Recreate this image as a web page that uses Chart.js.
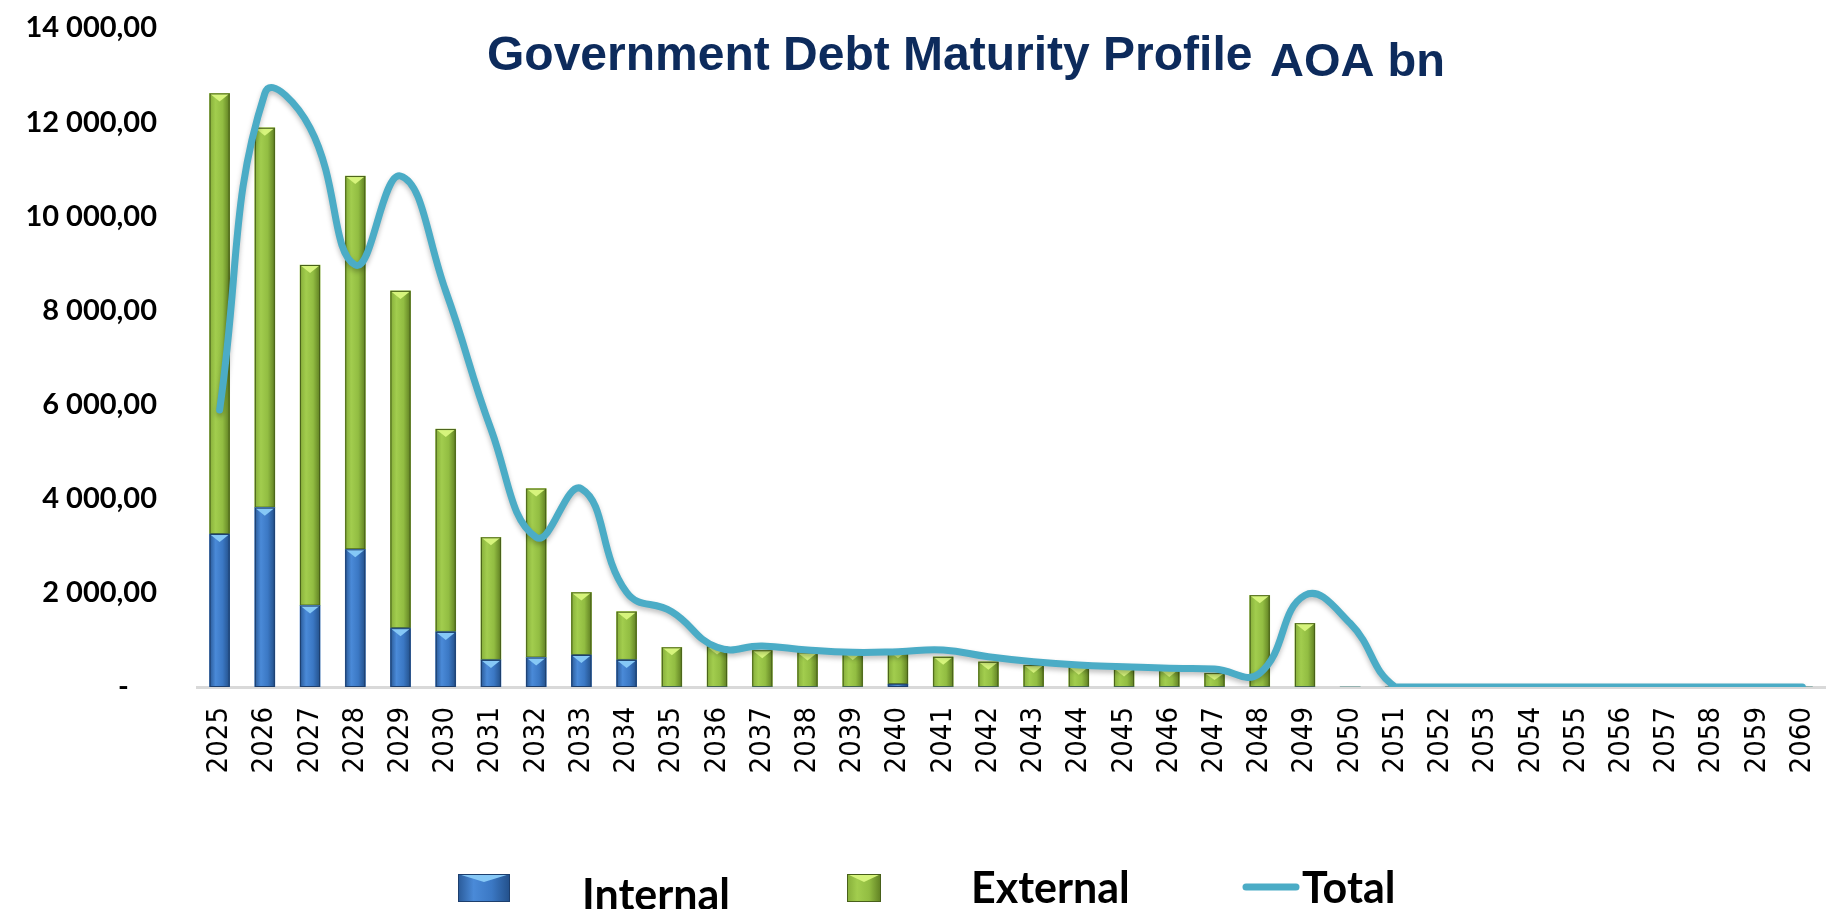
<!DOCTYPE html>
<html>
<head>
<meta charset="utf-8">
<script src="https://cdn.jsdelivr.net/npm/chart.js@4.4.0/dist/chart.umd.min.js"></script>
<style>
html, body { margin: 0; padding: 0; background: #fff; overflow: hidden; }
#wrap { width: 1846px; height: 909px; position: relative; }
</style>
</head>
<body>
<div id="wrap"><canvas id="myChart"></canvas></div>
<script>
// maturity years
var years = ['2025','2026','2027','2028','2029','2030','2031','2032','2033','2034',
             '2035','2036','2037','2038','2039','2040','2041','2042','2043','2044',
             '2045','2046','2047','2048','2049','2050','2051','2052','2053','2054',
             '2055','2056','2057','2058','2059','2060'];

// AOA bn
var internal = [3250, 3810, 1730, 2925, 1250, 1170, 575, 625, 680, 575,
                0, 0, 0, 0, 0, 60, 0, 0, 0, 0,
                0, 0, 0, 0, 0, 0, 0, 0, 0, 0,
                0, 0, 0, 0, 0, 0];
var external = [9360, 8070, 7235, 7930, 7165, 4310, 2605, 3590, 1330, 1025,
                843, 860, 780, 735, 745, 720, 640, 535, 465, 430,
                395, 380, 295, 1950, 1355, 0, 0, 0, 0, 0,
                0, 0, 0, 0, 0, 0];
// the total line as drawn in the source (it runs one year behind the bars)
var total = [5885, 12610, 11880, 8965, 10856, 8413, 5481, 3180, 4213, 2012,
             1600, 843, 871, 786, 737, 750, 786, 644, 537, 467,
             431, 397, 382, 291, 1948, 1353, 0, 0, 0, 0,
             0, 0, 0, 0, 0, 0];

var yTicks = [0, 2000, 4000, 6000, 8000, 10000, 12000, 14000];

var shades = {
    'Internal': { stops: ['#2a5a98', '#4a8ad8', '#3b78c4', '#23508a'], top: '#86c8f6', edge: '#1d3f6e' },
    'External': { stops: ['#86ae3a', '#a2cd4e', '#92bd42', '#5f7f22'], top: '#d6f47c', edge: '#48601a' }
};

function fmt(v) {
    if (v === 0) return '-    ';
    var s = String(Math.round(v)).replace(/\B(?=(\d{3})+(?!\d))/g, ' ');
    return s + ',00';
}

function paintBar(ctx, l, t, w, h, sh) {
    var g = ctx.createLinearGradient(l, 0, l + w, 0);
    g.addColorStop(0, sh.stops[0]);
    g.addColorStop(0.3, sh.stops[1]);
    g.addColorStop(0.65, sh.stops[2]);
    g.addColorStop(1, sh.stops[3]);
    ctx.fillStyle = g;
    ctx.fillRect(l, t, w, h);
    var b = Math.min(8, h / 2);
    ctx.fillStyle = sh.top;
    ctx.beginPath();
    ctx.moveTo(l, t);
    ctx.lineTo(l + w, t);
    ctx.lineTo(l + w / 2, t + b);
    ctx.closePath();
    ctx.fill();
    ctx.strokeStyle = sh.edge;
    ctx.lineWidth = 1;
    ctx.strokeRect(l + 0.5, t + 0.5, w - 1, h - 1);
}

var bevelPlugin = {
    id: 'bevel',
    beforeDatasetDraw: function(chart, args) {
        var ds = chart.data.datasets[args.index];
        if (ds.type === 'line') {
            chart.ctx.save();
            chart.ctx.shadowColor = 'rgba(0,0,0,0.25)';
            chart.ctx.shadowBlur = 5;
            chart.ctx.shadowOffsetY = 3;
        }
    },
    afterDatasetDraw: function(chart, args) {
        var ds = chart.data.datasets[args.index];
        var ctx = chart.ctx;
        if (ds.type === 'line') { ctx.restore(); return; }
        var sh = shades[ds.label];
        if (!sh) return;
        ctx.save();
        args.meta.data.forEach(function(bar) {
            var p = bar.getProps(['x', 'y', 'base', 'width'], true);
            var h = Math.abs(p.base - p.y);
            if (h < 1) return;
            paintBar(ctx, p.x - p.width / 2, Math.min(p.y, p.base), p.width, h, sh);
        });
        ctx.restore();
    }
};

var titleLegendPlugin = {
    id: 'titleLegend',
    afterDraw: function(chart) {
        var ctx = chart.ctx;
        ctx.save();
        ctx.textAlign = 'left';
        ctx.textBaseline = 'alphabetic';
        ctx.fillStyle = '#0d2b5c';
        ctx.font = 'bold 48px "Liberation Sans", Arial, sans-serif';
        ctx.fillText('Government Debt Maturity Profile', 487, 70);
        ctx.font = 'bold 47px "Liberation Sans", Arial, sans-serif';
        ctx.fillText('AOA bn', 1270, 76);

        var ds = chart.data.datasets;
        ctx.fillStyle = '#000';
        ctx.font = 'bold 43px Lato, sans-serif';
        // Internal
        paintBar(ctx, 458, 874, 52, 28, shades[ds[0].label]);
        ctx.fillStyle = '#000';
        ctx.fillText(ds[0].label, 582, 910);
        // External
        paintBar(ctx, 847, 874, 34, 28, shades[ds[1].label]);
        ctx.fillStyle = '#000';
        ctx.fillText(ds[1].label, 971, 903);
        // Total
        ctx.strokeStyle = ds[2].borderColor;
        ctx.lineWidth = 7;
        ctx.lineCap = 'round';
        ctx.beginPath();
        ctx.moveTo(1246, 887);
        ctx.lineTo(1296, 887);
        ctx.stroke();
        ctx.fillText(ds[2].label, 1302, 903);
        ctx.restore();
    }
};

var ctx = document.getElementById('myChart').getContext('2d');
var myChart = new Chart(ctx, {
    type: 'bar',
    data: {
        labels: years,
        datasets: [{
            label: 'Internal',
            data: internal,
            backgroundColor: '#3b78c4',
            stack: 'debt',
            order: 2,
            barThickness: 20
        }, {
            label: 'External',
            data: external,
            backgroundColor: '#92bd42',
            stack: 'debt',
            order: 2,
            barThickness: 20
        }, {
            type: 'line',
            label: 'Total',
            data: total,
            borderColor: '#4bacc6',
            backgroundColor: '#4bacc6',
            borderWidth: 7,
            borderCapStyle: 'round',
            borderJoinStyle: 'round',
            pointRadius: 0,
            tension: 0.45,
            fill: false,
            stack: 'total',
            order: 1
        }]
    },
    options: {
        responsive: true,
        maintainAspectRatio: false,
        animation: false,
        layout: { padding: { top: 28, right: 21, left: 0, bottom: 0 } },
        plugins: {
            legend: { display: false },
            title: { display: false },
            tooltip: { enabled: false }
        },
        scales: {
            x: {
                stacked: true,
                grid: { display: false, drawTicks: false },
                border: { display: true, color: '#d9d9d9', width: 3 },
                ticks: {
                    autoSkip: false,
                    maxRotation: 90,
                    minRotation: 90,
                    padding: 20,
                    color: '#000',
                    font: { family: '"DejaVu Sans Condensed", "DejaVu Sans", sans-serif', size: 29 }
                },
                afterFit: function(s) { s.height = 222; s.paddingLeft = 0; s.paddingRight = 0; }
            },
            y: {
                stacked: true,
                min: 0,
                max: 14000,
                afterBuildTicks: function(s) { s.ticks = yTicks.map(function(v) { return { value: v }; }); },
                grid: { display: false, drawTicks: false },
                border: { display: false },
                ticks: {
                    padding: 40,
                    color: '#000',
                    font: { family: 'Lato, sans-serif', size: 29, weight: 'bold' },
                    callback: function(v) { return fmt(v); }
                },
                afterFit: function(s) { s.width = 197; s.paddingTop = 0; s.paddingBottom = 0; }
            }
        }
    },
    plugins: [bevelPlugin, titleLegendPlugin]
});
</script>
</body>
</html>
